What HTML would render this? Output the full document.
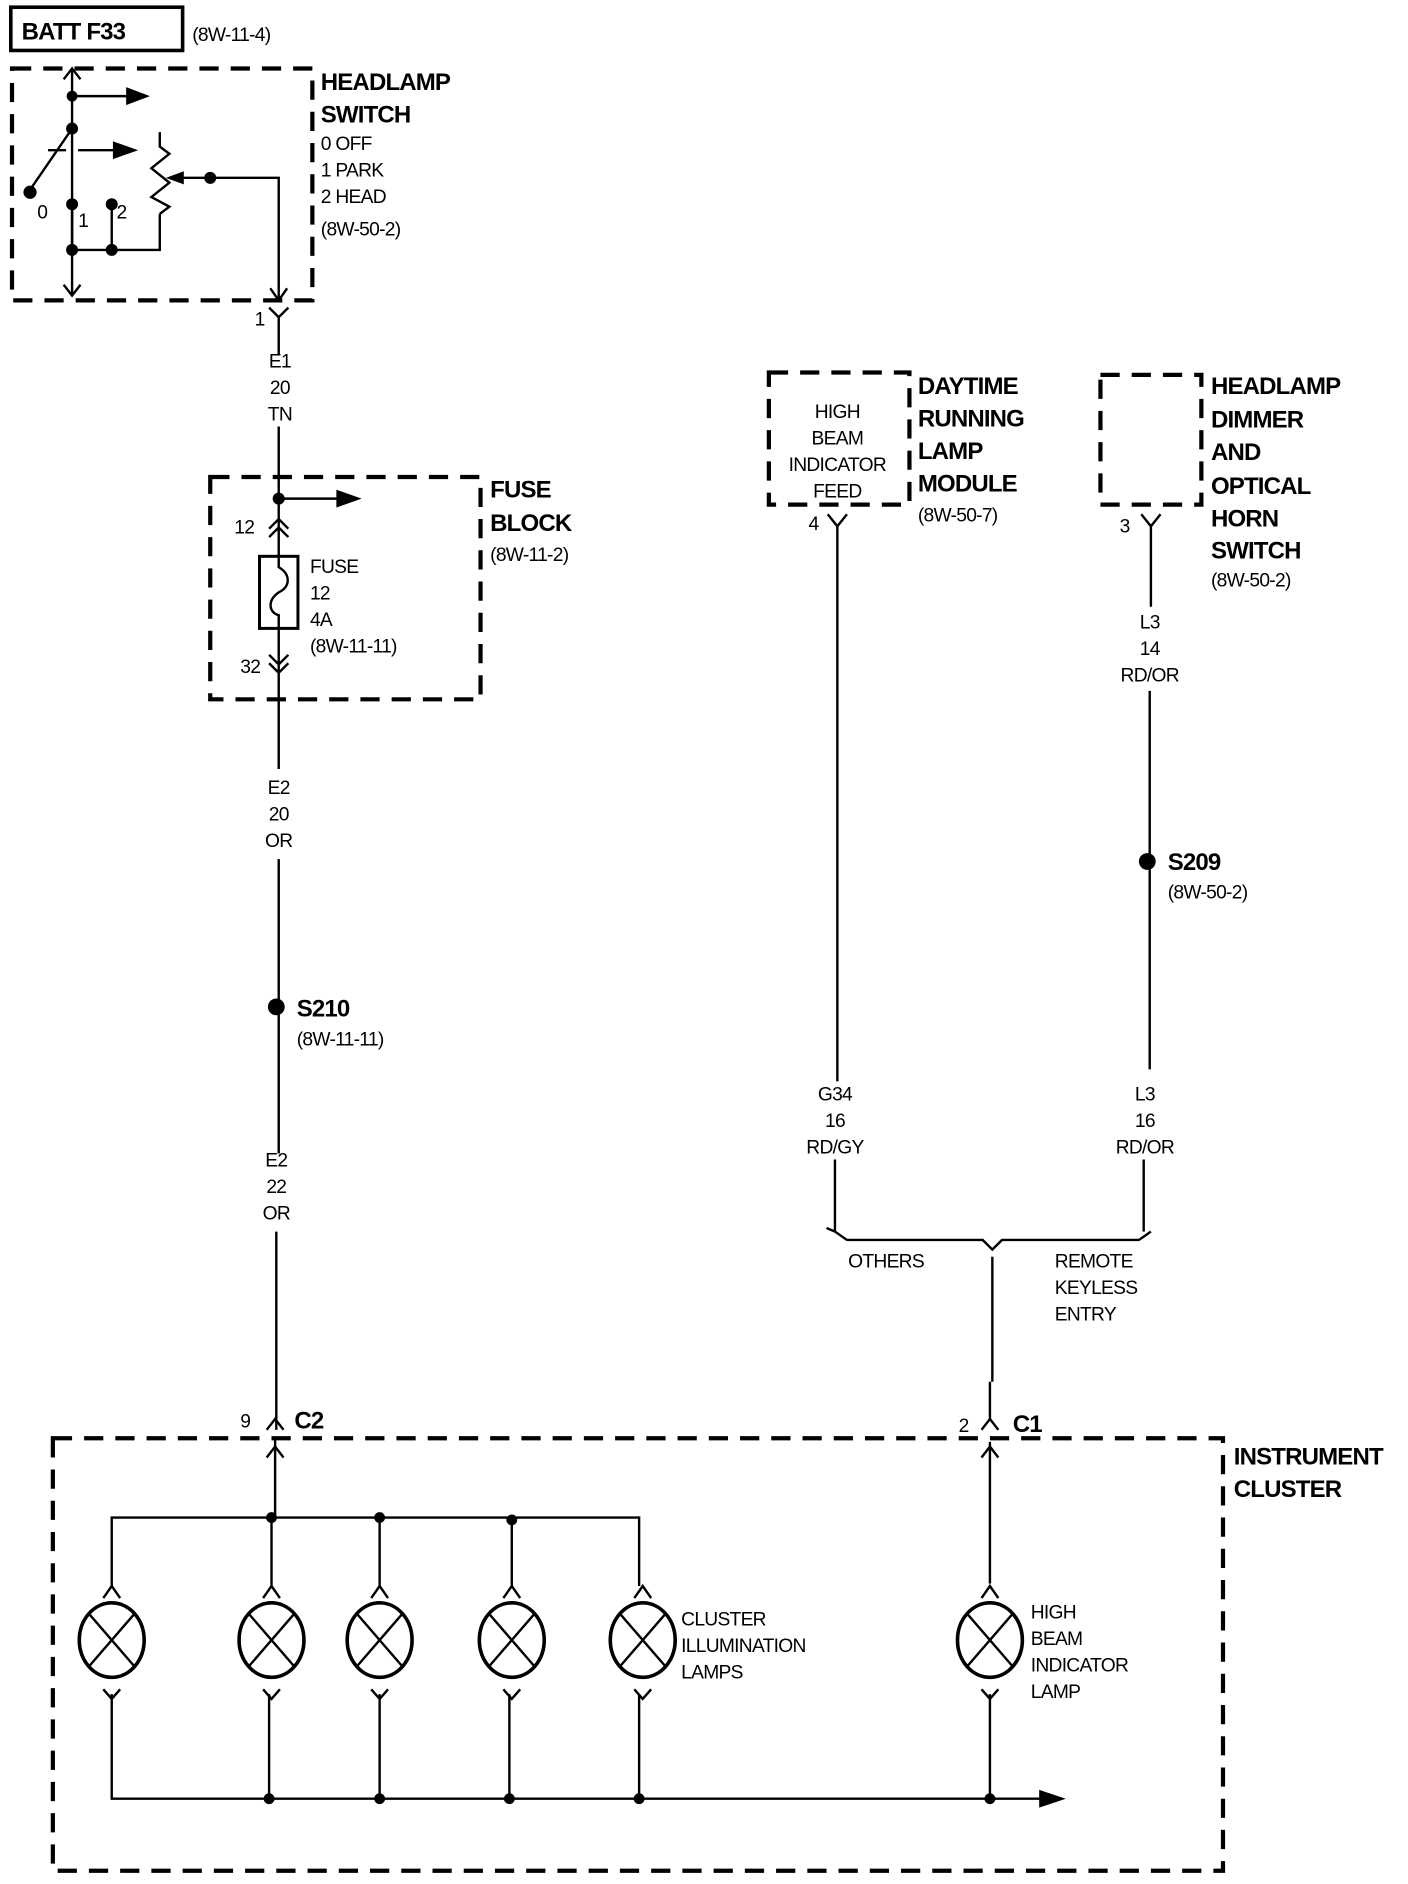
<!DOCTYPE html>
<html><head><meta charset="utf-8"><style>
html,body{margin:0;padding:0;background:#fff;}
svg{display:block;}
text{font-family:"Liberation Sans Narrow","Liberation Sans",sans-serif;fill:#000;}
.b{font-weight:bold;font-size:20px;letter-spacing:-0.7px;}
.n{font-size:16px;letter-spacing:-0.6px;}
</style></head><body>
<svg width="1408" height="1884" viewBox="0 0 1172 1568" preserveAspectRatio="none" xmlns="http://www.w3.org/2000/svg">
<g stroke="#000" fill="none" stroke-width="2">
<rect x="9" y="6" width="143" height="36" stroke-width="3"/>
<path d="M10,57 H260 V250 H10 Z" stroke-width="3.5" stroke-dasharray="16,10"/>
<path d="M60,57 V245" />
<path d="M53,66 L60,57 L67,66"/>
<path d="M53,237 L60,246 L67,237"/>
<path d="M60,80 H108"/><path d="M106,74 L122,80 L106,86 Z" fill="#000"/>
<path d="M60,107 L25,158"/>
<path d="M40,125 H55 M65,125 H95" /><path d="M95,119 L112,125 L95,131 Z" fill="#000"/>
<path d="M60,170 V208 M93,170 V208 M60,208 H133 V178"/>
<path d="M133,110 V122 L141,128 L126,140 L141,152 L126,164 L141,172 L133,178"/>
<path d="M175,148 H150"/><path d="M152,144 L141,148 L152,152 Z" fill="#000"/>
<path d="M175,148 H232 V250"/>
<path d="M225,240 L232,250 L239,240"/>
<path d="M224,256 L232,264 L240,256 M232,264 V295"/>
<path d="M232,355 V420"/>
<path d="M175,397 H400 V582 H175 Z" stroke-width="3.5" stroke-dasharray="16,10"/>
<path d="M232,415 H283"/><path d="M281,409 L298,415 L281,421 Z" fill="#000"/>
<path d="M232,415 V463"/>
<path d="M224,440 L232,432 L240,440 M224,447 L232,439 L240,447"/>
<rect x="216" y="463" width="32" height="60" stroke-width="2.5"/>
<path d="M232,463 V472 C242,478 242,488 232,493 C222,500 224,510 232,512 V523"/>
<path d="M232,523 V640"/>
<path d="M224,545 L232,553 L240,545 M224,552 L232,560 L240,552"/>
<path d="M232,715 V960 M230,1025 V1190"/>
<path d="M222,1190 L229,1181 L236,1190"/>
<path d="M44,1197 H1018 V1557 H44 Z" stroke-width="3.5" stroke-dasharray="16,10"/>
<path d="M229,1198 V1263"/>
<path d="M222,1213 L229,1204 L236,1213"/>
<path d="M93,1320 V1263 H532 V1320"/>
<path d="M226,1263 V1320 M316,1263 V1320 M426,1265 V1320"/>
<path d="M93,1410 V1497 H868"/><path d="M866,1491 L884,1497 L866,1503 Z" fill="#000"/>
<path d="M224,1410 V1497 M316,1410 V1497 M424,1410 V1497 M532,1410 V1497 M824,1410 V1497"/>
<path d="M824,1200 V1318"/>
<path d="M817,1213 L824,1204 L831,1213"/>
<path d="M817,1190 L824,1181 L831,1190 M824,1181 V1150"/>
<path d="M640,310 H757 V420 H640 Z" stroke-width="3.5" stroke-dasharray="16,10"/>
<path d="M689,428 L697,438 L705,428 M697,438 V900 M695,965 V1025 L688,1022 M695,1025 L705,1032 H818 L826,1040 L834,1032 H948 L958,1025 M952,1025 V965"/>
<path d="M826,1046 V1150"/>
<path d="M916,312 H1000 V420 H916 Z" stroke-width="3.5" stroke-dasharray="16,10"/>
<path d="M950,428 L958,438 L966,428 M958,438 V505 M957,575 V890"/>
</g>
<g stroke="#000" fill="none" stroke-width="3">
<g id="lamp">
<path d="M86,1330 L93,1320 L100,1330" stroke-width="2"/>
<ellipse cx="93" cy="1365" rx="27" ry="31"/>
<path d="M74,1343 L112,1387 M112,1343 L74,1387" stroke-width="2"/>
<path d="M86,1406 L93,1414 L100,1406" stroke-width="2"/>
</g>
<use href="#lamp" x="133"/>
<use href="#lamp" x="223"/>
<use href="#lamp" x="333"/>
<use href="#lamp" x="442"/>
<use href="#lamp" x="731"/>
</g>
<g fill="#000">
<circle cx="60" cy="80" r="4.5"/><circle cx="60" cy="107" r="5"/><circle cx="25" cy="160" r="5.5"/>
<circle cx="60" cy="170" r="5"/><circle cx="93" cy="170" r="5"/><circle cx="60" cy="208" r="5"/><circle cx="93" cy="208" r="5"/>
<circle cx="175" cy="148" r="5"/><circle cx="232" cy="415" r="5"/>
<circle cx="230" cy="838" r="7"/><circle cx="955" cy="717" r="7"/>
<circle cx="226" cy="1263" r="4.5"/><circle cx="316" cy="1263" r="4.5"/><circle cx="426" cy="1265" r="4.5"/>
<circle cx="224" cy="1497" r="4.5"/><circle cx="316" cy="1497" r="4.5"/><circle cx="424" cy="1497" r="4.5"/><circle cx="532" cy="1497" r="4.5"/><circle cx="824" cy="1497" r="4.5"/>
</g>
<text class="b" x="18" y="33">BATT F33</text>
<text class="n" x="160" y="34" font-size="14">(8W-11-4)</text>
<text class="b" x="267" y="75">HEADLAMP</text>
<text class="b" x="267" y="102">SWITCH</text>
<text class="n" x="267" y="125">0 OFF</text>
<text class="n" x="267" y="147">1 PARK</text>
<text class="n" x="267" y="169">2 HEAD</text>
<text class="n" x="267" y="196">(8W-50-2)</text>
<text class="n" x="31" y="182" font-size="14">0</text>
<text class="n" x="65" y="189" font-size="14">1</text>
<text class="n" x="97" y="182" font-size="14">2</text>
<text class="n" x="212" y="271">1</text>
<g class="n" text-anchor="middle">
<text x="233" y="306">E1</text><text x="233" y="328">20</text><text x="233" y="350">TN</text>
<text x="232" y="661">E2</text><text x="232" y="683">20</text><text x="232" y="705">OR</text>
<text x="230" y="971">E2</text><text x="230" y="993">22</text><text x="230" y="1015">OR</text>
<text x="697" y="348">HIGH</text><text x="697" y="370">BEAM</text><text x="697" y="392">INDICATOR</text><text x="697" y="414">FEED</text>
<text x="695" y="916">G34</text><text x="695" y="938">16</text><text x="695" y="960">RD/GY</text>
<text x="957" y="523">L3</text><text x="957" y="545">14</text><text x="957" y="567">RD/OR</text>
<text x="953" y="916">L3</text><text x="953" y="938">16</text><text x="953" y="960">RD/OR</text>
</g>
<text class="b" x="408" y="414">FUSE</text>
<text class="b" x="408" y="442">BLOCK</text>
<text class="n" x="408" y="467">(8W-11-2)</text>
<text class="n" x="195" y="444">12</text>
<text class="n" x="200" y="560">32</text>
<text class="n" x="258" y="477">FUSE</text>
<text class="n" x="258" y="499">12</text>
<text class="n" x="258" y="521">4A</text>
<text class="n" x="258" y="543">(8W-11-11)</text>
<text class="b" x="247" y="846">S210</text>
<text class="n" x="247" y="870">(8W-11-11)</text>
<text class="n" x="200" y="1188">9</text>
<text class="b" x="245" y="1189">C2</text>
<text class="n" x="798" y="1192">2</text>
<text class="b" x="843" y="1192">C1</text>
<text class="b" x="1027" y="1219">INSTRUMENT</text>
<text class="b" x="1027" y="1246">CLUSTER</text>
<text class="n" x="567" y="1353">CLUSTER</text><text class="n" x="567" y="1375">ILLUMINATION</text><text class="n" x="567" y="1397">LAMPS</text>
<text class="n" x="858" y="1347">HIGH</text><text class="n" x="858" y="1369">BEAM</text><text class="n" x="858" y="1391">INDICATOR</text><text class="n" x="858" y="1413">LAMP</text>
<text class="b" x="764" y="328">DAYTIME</text>
<text class="b" x="764" y="355">RUNNING</text>
<text class="b" x="764" y="382">LAMP</text>
<text class="b" x="764" y="409">MODULE</text>
<text class="n" x="764" y="434">(8W-50-7)</text>
<text class="n" x="673" y="441">4</text>
<text class="b" x="1008" y="328">HEADLAMP</text>
<text class="b" x="1008" y="356">DIMMER</text>
<text class="b" x="1008" y="383">AND</text>
<text class="b" x="1008" y="411">OPTICAL</text>
<text class="b" x="1008" y="438">HORN</text>
<text class="b" x="1008" y="465">SWITCH</text>
<text class="n" x="1008" y="488">(8W-50-2)</text>
<text class="n" x="932" y="443">3</text>
<text class="b" x="972" y="724">S209</text>
<text class="n" x="972" y="748">(8W-50-2)</text>
<text class="n" x="706" y="1055">OTHERS</text>
<text class="n" x="878" y="1055">REMOTE</text><text class="n" x="878" y="1077">KEYLESS</text><text class="n" x="878" y="1099">ENTRY</text>
</svg>
</body></html>
